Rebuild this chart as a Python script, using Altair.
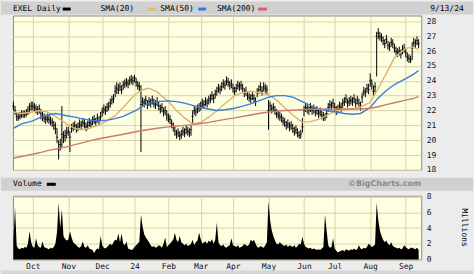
import altair as alt
import pandas as pd

# ---------------- data ----------------
HOLIDAYS = ["2023-11-23", "2023-12-25", "2024-01-01", "2024-01-15", "2024-02-19",
            "2024-03-29", "2024-05-27", "2024-06-19", "2024-07-04", "2024-09-02"]

LOW = [
    22.0, 21.7, 21.3, 21.3, 21.4, 21.5, 21.5, 21.5, 21.6, 21.7, 21.8, 22.0,
    22.0, 21.9, 21.8, 21.7, 21.8, 21.4, 21.3, 21.2, 21.1, 21.2, 21.1, 21.0, 20.9, 20.7, 20.4, 19.8, 18.7, 19.3, 19.5, 19.8, 19.9, 20.1,
    20.3, 19.2, 20.5, 20.6, 20.7, 20.5, 20.6, 20.8, 20.7, 20.9, 20.8, 20.6, 20.7, 20.9, 20.8, 21.0, 21.1, 20.9, 21.2, 21.0, 21.3,
    21.6, 21.8, 21.7, 21.9, 22.0, 22.2, 22.4, 22.5, 22.9, 23.1, 23.1, 23.3, 23.1, 23.4, 23.5, 23.6, 23.5, 23.7, 23.8, 23.7,
    23.9, 23.6, 23.4, 23.3, 19.2, 22.3, 22.2, 22.4, 22.1, 22.3, 22.2, 22.4, 22.2, 22.1, 22.3, 22.0, 21.8, 21.9, 21.6, 21.7, 21.3,
    21.2, 21.1, 20.8, 20.6, 20.3, 20.1, 20.2, 20.0, 20.1, 20.3, 20.2, 20.4, 20.3, 20.2, 20.3, 21.1, 21.7, 21.6, 21.8, 21.9,
    22.0, 22.2, 22.1, 22.3, 22.2, 22.4, 22.5, 22.7, 22.5, 22.8, 23.0, 23.2, 23.1, 23.3, 23.5, 23.4, 23.7, 23.6, 23.4, 23.5,
    23.2, 23.0, 23.2, 23.4, 23.3, 23.4, 23.2, 22.9, 23.0, 22.7, 22.6, 22.5, 22.7, 22.5, 22.3, 22.9, 23.1, 23.3, 23.0, 23.3, 23.2, 23.1,
    20.7, 22.0, 21.8, 21.9, 21.7, 21.5, 21.4, 21.3, 21.2, 21.0, 20.9, 20.7, 20.8, 20.6, 20.7, 20.5, 20.3, 20.4, 20.2, 20.1, 20.1, 20.5,
    21.6, 21.9, 21.8, 21.7, 21.9, 21.7, 21.8, 21.6, 21.7, 21.5, 21.6, 21.4, 21.3, 21.3, 21.5, 21.9, 22.1, 22.0, 22.2,
    21.9, 21.7, 21.8, 22.0, 21.9, 22.2, 22.3, 22.5, 22.2, 22.3, 22.4, 22.3, 22.5, 22.2, 22.4, 22.2, 22.0, 22.5, 23.0, 22.9, 23.2, 23.1,
    23.6, 23.4, 23.0, 23.2, 24.3, 26.8, 26.7, 26.6, 26.4, 26.2, 26.5, 26.1, 26.0, 26.3, 26.2, 25.9, 25.7, 25.6, 25.7, 25.5, 25.8, 25.9,
    25.6, 25.3, 25.2, 25.2, 25.4, 26.3, 26.2, 26.4, 26.2,
]

HIGH = [
    22.6, 22.3, 21.9, 21.8, 21.9, 22.0, 22.0, 22.0, 22.1, 22.3, 22.5, 22.6,
    22.6, 22.5, 22.4, 22.3, 22.4, 22.1, 21.9, 21.8, 21.7, 21.8, 21.7, 21.6, 21.5, 21.3, 21.2, 20.8, 20.0, 20.1, 22.3, 20.6, 20.7, 20.9,
    20.9, 20.6, 21.1, 21.2, 21.3, 21.1, 21.2, 21.4, 21.3, 21.5, 21.4, 21.2, 21.3, 21.5, 21.4, 21.6, 21.7, 21.5, 21.8, 21.6, 21.9,
    22.2, 22.4, 22.3, 22.5, 22.6, 22.8, 23.0, 23.1, 23.7, 23.9, 23.8, 23.9, 23.7, 24.0, 24.1, 24.2, 24.1, 24.3, 24.4, 24.3,
    24.4, 24.2, 24.0, 23.9, 23.7, 22.9, 22.8, 23.0, 22.7, 22.9, 22.8, 23.0, 22.8, 22.7, 22.9, 22.6, 22.4, 22.5, 22.2, 22.3, 22.0,
    21.8, 21.7, 21.4, 21.2, 20.9, 20.7, 20.8, 20.6, 20.7, 20.9, 20.8, 21.0, 20.9, 20.8, 21.0, 22.0, 22.3, 22.2, 22.4, 22.5,
    22.6, 22.8, 22.7, 22.9, 22.8, 23.0, 23.1, 23.3, 23.1, 23.4, 23.6, 23.8, 23.7, 23.9, 24.1, 24.0, 24.3, 24.2, 24.0, 24.1,
    23.8, 23.6, 23.8, 24.0, 23.9, 24.0, 23.8, 23.5, 23.6, 23.3, 23.2, 23.1, 23.3, 23.1, 22.9, 23.5, 23.7, 23.9, 23.6, 23.9, 23.8, 23.7,
    22.7, 22.6, 22.4, 22.5, 22.3, 22.1, 22.0, 21.9, 21.8, 21.6, 21.5, 21.3, 21.4, 21.2, 21.3, 21.1, 20.9, 21.0, 20.8, 20.6, 20.7, 21.5,
    22.3, 22.5, 22.4, 22.3, 22.5, 22.3, 22.4, 22.2, 22.3, 22.1, 22.2, 22.0, 21.9, 21.8, 22.1, 22.5, 22.7, 22.6, 22.8,
    22.5, 22.3, 22.4, 22.6, 22.5, 22.8, 22.9, 23.1, 22.8, 22.9, 23.0, 22.9, 23.1, 22.8, 23.0, 22.8, 22.6, 23.2, 23.6, 23.5, 23.8, 23.8,
    24.5, 24.1, 23.7, 23.9, 27.3, 27.55, 27.3, 27.2, 27.0, 26.8, 27.1, 26.7, 26.6, 26.9, 26.8, 26.5, 26.3, 26.2, 26.3, 26.1, 26.4, 26.5,
    26.2, 25.9, 25.8, 25.7, 26.6, 26.9, 26.8, 27.0, 26.8,
]

CLOSE = [
    22.3, 22.0, 21.6, 21.5, 21.6, 21.7, 21.8, 21.7, 21.8, 21.9, 22.1, 22.3,
    22.3, 22.2, 22.1, 22.0, 22.1, 21.8, 21.6, 21.5, 21.4, 21.5, 21.4, 21.3, 21.2, 21.0, 20.8, 20.2, 19.4, 19.7, 20.4, 20.2, 20.3, 20.5,
    20.6, 20.2, 20.8, 20.9, 21.0, 20.8, 20.9, 21.1, 21.0, 21.2, 21.1, 20.9, 21.0, 21.2, 21.1, 21.3, 21.4, 21.2, 21.5, 21.3, 21.6,
    21.9, 22.1, 22.0, 22.2, 22.3, 22.5, 22.7, 22.8, 23.3, 23.5, 23.4, 23.6, 23.4, 23.7, 23.8, 23.9, 23.8, 24.0, 24.1, 24.0,
    24.2, 23.9, 23.7, 23.6, 22.4, 22.6, 22.5, 22.7, 22.4, 22.6, 22.5, 22.7, 22.5, 22.4, 22.6, 22.3, 22.1, 22.2, 21.9, 22.0, 21.7,
    21.5, 21.4, 21.1, 20.9, 20.6, 20.4, 20.5, 20.3, 20.4, 20.6, 20.5, 20.7, 20.6, 20.5, 20.7, 21.6, 22.0, 21.9, 22.1, 22.2,
    22.3, 22.5, 22.4, 22.6, 22.5, 22.7, 22.8, 23.0, 22.8, 23.1, 23.3, 23.5, 23.4, 23.6, 23.8, 23.7, 24.0, 23.9, 23.7, 23.8,
    23.5, 23.3, 23.5, 23.7, 23.6, 23.7, 23.5, 23.2, 23.3, 23.0, 22.9, 22.8, 23.0, 22.8, 22.6, 23.2, 23.4, 23.6, 23.3, 23.6, 23.5, 23.4,
    22.0, 22.3, 22.1, 22.2, 22.0, 21.8, 21.7, 21.6, 21.5, 21.3, 21.2, 21.0, 21.1, 20.9, 21.0, 20.8, 20.6, 20.7, 20.5, 20.3, 20.4, 20.9,
    22.0, 22.2, 22.1, 22.0, 22.2, 22.0, 22.1, 21.9, 22.0, 21.8, 21.9, 21.7, 21.6, 21.5, 21.8, 22.2, 22.4, 22.3, 22.5,
    22.2, 22.0, 22.1, 22.3, 22.2, 22.5, 22.6, 22.8, 22.5, 22.6, 22.7, 22.6, 22.8, 22.5, 22.7, 22.5, 22.3, 22.9, 23.3, 23.2, 23.5, 23.4,
    24.0, 23.8, 23.3, 23.6, 27.0, 27.2, 27.0, 26.9, 26.7, 26.5, 26.8, 26.4, 26.3, 26.6, 26.5, 26.2, 26.0, 25.9, 26.0, 25.8, 26.1, 26.2,
    25.9, 25.6, 25.5, 25.4, 26.2, 26.6, 26.5, 26.7, 26.5,
]

VOLUME = [
    2.5, 6.6, 1.8, 1.4, 1.3, 1.5, 1.4, 1.6, 1.5, 2.0, 3.6, 2.2,
    1.6, 1.5, 2.7, 1.8, 1.6, 1.5, 2.3, 1.6, 1.5, 1.4, 1.3, 1.5, 1.4, 1.6, 2.0, 3.5, 7.2, 4.0, 6.4, 3.0, 2.6, 2.4,
    2.5, 3.6, 2.8, 2.2, 2.0, 1.8, 1.6, 1.5, 1.7, 2.3, 1.6, 1.5, 1.8, 1.4, 1.3, 1.2, 0.8, 1.2, 1.4, 1.3, 3.0,
    1.8, 1.5, 1.4, 1.6, 1.8, 2.0, 1.8, 2.2, 2.5, 2.4, 3.3, 2.2, 3.3, 2.0, 1.8, 2.3, 1.4, 1.3, 1.2, 1.3,
    1.6, 1.8, 2.0, 2.3, 5.7, 4.2, 3.2, 2.8, 2.5, 2.2, 1.8, 1.6, 1.7, 1.5, 1.6, 1.8, 1.7, 1.5, 2.0, 2.8, 1.6,
    1.8, 2.0, 2.3, 2.5, 3.4, 2.5, 2.2, 3.0, 2.2, 2.0, 1.8, 2.0, 1.7, 1.8, 2.0, 2.5, 1.8, 2.2, 2.4, 3.4,
    2.6, 2.0, 2.2, 2.3, 2.0, 2.4, 2.2, 2.6, 2.0, 2.5, 4.7, 2.2, 1.8, 1.7, 1.9, 1.6, 1.5, 1.7, 1.8, 2.7,
    1.8, 1.7, 1.6, 1.8, 1.5, 1.6, 1.7, 2.0, 1.8, 1.7, 1.9, 2.5, 2.3, 2.5, 2.0, 1.6, 1.5, 1.7, 1.6, 1.5, 1.8, 2.2,
    7.4, 5.0, 3.7, 3.0, 2.4, 2.0, 1.9, 2.2, 2.0, 1.8, 1.7, 1.9, 1.6, 1.8, 1.7, 1.6, 1.8, 1.5, 1.7, 2.0, 1.9, 2.9,
    2.0, 1.6, 1.5, 1.4, 1.5, 1.3, 1.4, 1.3, 1.2, 1.3, 1.2, 1.4, 1.6, 5.7, 3.7, 1.8, 1.5, 1.6, 2.7,
    1.4, 1.1, 0.9, 1.0, 1.1, 1.2, 1.0, 1.3, 1.2, 1.1, 1.3, 1.2, 1.4, 1.2, 1.3, 1.8, 1.4, 1.3, 1.5, 1.4, 1.6, 2.0,
    1.8, 1.6, 1.7, 1.9, 7.2, 5.0, 3.7, 3.0, 2.5, 2.2, 2.4, 2.0, 1.8, 2.2, 1.7, 1.6, 1.5, 1.4, 1.5, 1.3, 1.4, 1.8,
    1.6, 1.4, 1.3, 1.5, 1.5, 1.4, 1.3, 1.5, 1.2,
]

# moving averages, sampled at trading-day positions
SMA_IDX = [0, 5, 12, 16, 21, 26, 33, 38, 42, 47, 53, 58, 63, 68, 75, 80, 84, 89, 96, 101,
           106, 111, 116, 121, 126, 131, 137, 142, 147, 152, 158, 163, 168, 173, 179, 184, 189, 194, 200, 205,
           210, 215, 221, 226, 231, 236, 243, 248, 251]
SMA20 = [21.9, 21.8, 21.9, 22.0, 21.9, 21.6, 21.1, 20.8, 20.7, 20.8, 21.05, 21.3, 21.65, 22.2, 23.05, 23.4, 23.5, 23.25, 22.6, 22.0,
         21.5, 21.1, 21.2, 21.55, 22.0, 22.45, 23.0, 23.2, 23.3, 23.2, 23.05, 22.7, 22.2, 21.7, 21.2, 21.25, 21.4, 21.65, 22.0, 22.05,
         22.1, 22.25, 22.55, 23.5, 24.5, 25.55, 26.2, 26.25, 26.1]
SMA50 = [20.8, 21.1, 21.3, 21.5, 21.7, 21.8, 21.65, 21.55, 21.45, 21.35, 21.3, 21.35, 21.45, 21.6, 21.95, 22.3, 22.5, 22.6, 22.65, 22.6,
         22.5, 22.35, 22.2, 22.1, 22.0, 22.05, 22.15, 22.3, 22.45, 22.65, 22.9, 23.0, 23.0, 22.9, 22.6, 22.35, 22.1, 22.0, 21.9, 21.8,
         21.75, 21.8, 22.2, 22.85, 23.35, 23.75, 24.15, 24.45, 24.7]
SMA200 = [18.8, 18.9, 19.05, 19.15, 19.3, 19.4, 19.55, 19.7, 19.8, 19.95, 20.1, 20.2, 20.3, 20.4, 20.55, 20.65, 20.72, 20.8, 20.9, 20.95,
          21.0, 21.05, 21.12, 21.2, 21.3, 21.4, 21.5, 21.6, 21.7, 21.8, 21.9, 21.95, 22.0, 22.02, 22.05, 22.07, 22.08, 22.1, 22.1, 22.1,
          22.1, 22.1, 22.15, 22.25, 22.4, 22.52, 22.7, 22.82, 22.93]

SMA_NAMES = ["SMA(20)", "SMA(50)", "SMA(200)"]
SMA_COLORS = ["#dcb46e", "#3b7ed6", "#cc7a6c"]

MONTH_TICKS = [12, 34, 55, 75, 96, 116, 136, 158, 180, 199, 221, 243]
MONTH_LABELS = ["Oct", "Nov", "Dec", "24", "Feb", "Mar", "Apr", "May", "Jun", "Jul", "Aug", "Sep"]
PRICE_TICKS = [18, 19, 20, 21, 22, 23, 24, 25, 26, 27, 28]
VOL_TICKS = [0, 2, 4, 6, 8]

# ---------------- tables ----------------
days = [d.strftime("%Y-%m-%d") for d in pd.bdate_range("2023-09-14", "2024-09-13")]
days = [d for d in days if d not in HOLIDAYS]
df = pd.DataFrame({"i": list(range(len(days))), "date": days,
                   "lo": LOW, "hi": HIGH, "close": CLOSE, "vol": VOLUME})
sma = pd.DataFrame({
    "i": SMA_IDX * 3,
    "v": SMA20 + SMA50 + SMA200,
    "s": [SMA_NAMES[0]] * len(SMA_IDX) + [SMA_NAMES[1]] * len(SMA_IDX) + [SMA_NAMES[2]] * len(SMA_IDX),
})
one = pd.DataFrame({"k": [0]})

# ---------------- style ----------------
W, HP, HV = 410, 155, 64
MONO = "DejaVu Sans Mono"
BG = "#ececec"
BAND = "#d0d0d0"
PLOT_BG = "#fefee1"
GRID = "#d8d3a6"
BORDER = "#8a8a8a"

xs = alt.Scale(domain=[-0.3, 252.6], nice=False, zero=False)
ys_p = alt.Scale(domain=[18, 28.4], nice=False, zero=False)
label_expr = ("[" + ",".join("'%s'" % m for m in MONTH_LABELS) + "][indexof(["
              + ",".join(str(t) for t in MONTH_TICKS) + "], datum.value)]")

x_axis_p = alt.Axis(values=MONTH_TICKS, labels=False, ticks=False, domain=False,
                    grid=True, gridColor=GRID, gridWidth=1, title=None)
y_axis_p = alt.Axis(orient="right", values=PRICE_TICKS, grid=True, gridColor=GRID,
                    ticks=False, domain=False, labelFont=MONO, labelFontSize=8,
                    labelPadding=5, labelColor="#111111", labelOverlap=False, title=None)


def rect(x1, x2, y1, y2, color):
    return alt.Chart(one).mark_rect(color=color).encode(
        x=alt.value(x1), x2=alt.value(x2), y=alt.value(y1), y2=alt.value(y2))


def label(x, y, txt, **kw):
    opts = dict(font=MONO, fontSize=8, align="left", baseline="middle", color="#000000")
    opts.update(kw)
    return alt.Chart(one).mark_text(**opts).encode(
        x=alt.value(x), y=alt.value(y), text=alt.value(txt))


# ---------------- price panel ----------------
bars = alt.Chart(df).mark_rule(color="#000000", strokeWidth=1).encode(
    x=alt.X("i:Q", scale=xs, axis=x_axis_p),
    y=alt.Y("lo:Q", scale=ys_p, axis=y_axis_p),
    y2="hi:Q",
)
ticks = alt.Chart(df).mark_tick(color="#000000", orient="horizontal", size=2.5, thickness=1).encode(
    x=alt.X("i:Q", scale=xs, axis=x_axis_p),
    y=alt.Y("close:Q", scale=ys_p, axis=y_axis_p))
lines = alt.Chart(sma).mark_line(strokeWidth=1.4).encode(
    x=alt.X("i:Q", scale=xs, axis=x_axis_p),
    y=alt.Y("v:Q", scale=ys_p, axis=y_axis_p),
    color=alt.Color("s:N", scale=alt.Scale(domain=SMA_NAMES, range=SMA_COLORS), legend=None),
)

price_deco = [
    rect(-12, 462, -14, -1, BAND),
    label(0, -7, "EXEL Daily"),
    rect(50, 58, -8, -5, "#000000"),
    label(88, -7, "SMA(20)"),
    rect(135, 143, -8, -5, "#e3be62"),
    label(148, -7, "SMA(50)"),
    rect(186, 194, -8, -5, "#2f7fe0"),
    label(205, -7, "SMA(200)"),
    rect(246, 255, -8, -5, "#d8606e"),
    label(419, -7, "9/13/24"),
]
price = alt.layer(bars, ticks, lines, *price_deco).properties(width=W, height=HP)

# ---------------- volume panel ----------------
vol_area = alt.Chart(df).mark_area(color="#000000", opacity=1, interpolate="linear").encode(
    x=alt.X("i:Q", scale=xs, title=None,
            axis=alt.Axis(values=MONTH_TICKS, labelExpr=label_expr, ticks=False, domain=False,
                          grid=True, gridColor=GRID, labelFont=MONO, labelFontSize=8,
                          labelPadding=3, labelColor="#111111", labelOverlap=False)),
    y=alt.Y("vol:Q", scale=alt.Scale(domain=[0, 8.1], nice=False), title=None,
            axis=alt.Axis(orient="right", values=VOL_TICKS, grid=True, gridColor=GRID,
                          ticks=False, domain=False, labelFont=MONO, labelFontSize=8,
                          labelPadding=5, labelColor="#111111", labelOverlap=False)),
)
vol_deco = [
    rect(-12, 462, -18, -5, BAND),
    label(0, -11.5, "Volume"),
    rect(34, 43, -13, -10, "#000000"),
    label(410, -11.5, "\u00a9BigCharts.com", font="DejaVu Sans", fontWeight="bold",
          align="right", color="#8a8a8a"),
    label(453, 32, "Millions", angle=90, align="center"),
    rect(-12, 462, 75, 79, "#d6d6d6"),
]
volume = alt.layer(vol_area, *vol_deco).properties(width=W, height=HV)

chart = alt.vconcat(price, volume, spacing=26, bounds="flush").properties(
    background=BG, padding=0
).configure_view(fill=PLOT_BG, stroke=BORDER, strokeWidth=1)

chart.save("out.html", embed_options={"renderer": "svg", "actions": False})
